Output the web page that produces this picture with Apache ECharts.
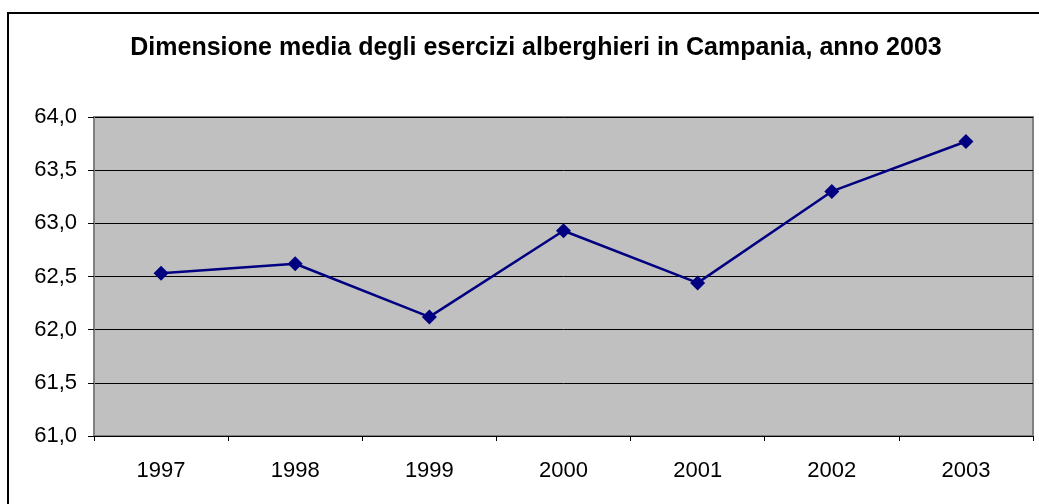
<!DOCTYPE html>
<html>
<head>
<meta charset="utf-8">
<script src="https://cdn.jsdelivr.net/npm/echarts@6/dist/echarts.min.js"></script>
<style>
html,body{margin:0;padding:0;background:#fff;}
#chart{width:1039px;height:504px;}
</style>
</head>
<body>
<div id="chart"></div>
<script>
const titleText = 'Dimensione media degli esercizi alberghieri in Campania, anno 2003';
const categories = ['1997','1998','1999','2000','2001','2002','2003'];
const values = [62.53, 62.62, 62.12, 62.93, 62.44, 63.30, 63.77];
const yMin = 61.0, yMax = 64.0, yStep = 0.5;

const chart = echarts.init(document.getElementById('chart'), null, {renderer:'canvas'});
chart.setOption({
  animation: false,
  backgroundColor: '#ffffff',
  title: {
    text: titleText,
    left: 531, top: 31, textAlign: 'center',
    textStyle: {fontFamily: 'Liberation Sans, Arial, sans-serif', fontWeight: 'bold', fontSize: 25, color: '#000'}
  },
  graphic: [{
    type: 'rect', shape: {x: 8, y: 13, width: 1200, height: 700},
    style: {fill: 'none', stroke: '#000', lineWidth: 2}, silent: true, z: 100
  }],
  grid: {
    left: 94, right: 6, top: 117, bottom: 68,
    show: true, backgroundColor: '#C0C0C0', borderColor: '#808080', borderWidth: 2
  },
  xAxis: {
    type: 'category', data: categories, boundaryGap: true,
    axisLine: {lineStyle: {color: '#000', width: 1}},
    axisTick: {show: true, length: 5, inside: false, lineStyle: {color: '#000'}},
    axisLabel: {margin: 24, fontFamily: 'Liberation Sans, Arial, sans-serif', fontSize: 22, color: '#000'},
    splitLine: {show: false}
  },
  yAxis: {
    type: 'value', min: yMin, max: yMax, interval: yStep,
    axisLine: {show: true, lineStyle: {color: '#808080', width: 2}},
    axisTick: {show: true, length: 6, lineStyle: {color: '#000'}},
    axisLabel: {margin: 17, fontFamily: 'Liberation Sans, Arial, sans-serif', fontSize: 22, color: '#000',
      formatter: v => v.toFixed(1).replace('.', ',')},
    splitLine: {show: true, lineStyle: {color: '#000', width: 1}}
  },
  series: [{
    type: 'line', data: values,
    symbol: 'diamond', symbolSize: 15,
    lineStyle: {color: '#000080', width: 2.5},
    itemStyle: {color: '#000080'}
  }]
});
</script>
</body>
</html>
